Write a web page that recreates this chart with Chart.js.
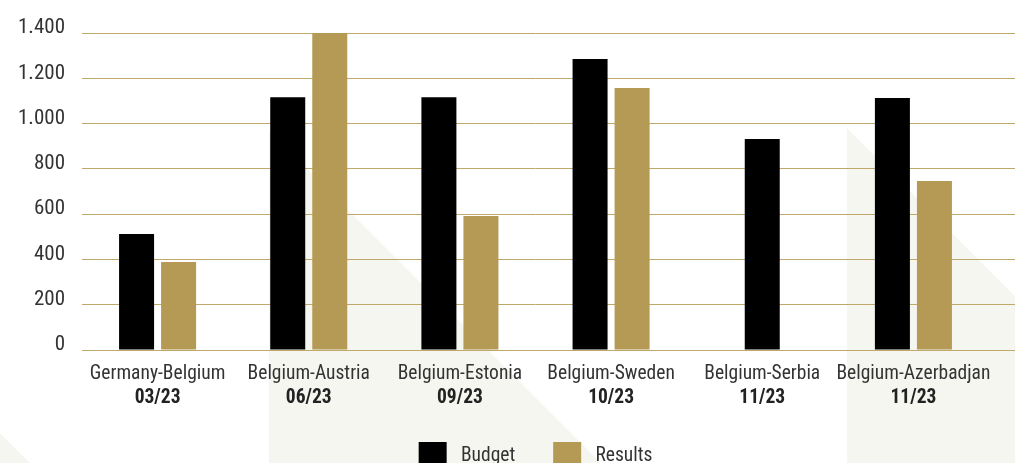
<!DOCTYPE html>
<html>
<head>
<meta charset="utf-8">
<script src="https://cdn.jsdelivr.net/npm/chart.js@4.4.1/dist/chart.umd.min.js"></script>
<style>
  html, body { margin: 0; padding: 0; background: #fff; overflow: hidden; }
  #wrap { position: relative; width: 1015px; height: 480px; }
  .deco { position: absolute; left: 0; top: 0; width: 1015px; height: 480px; background: #f6f6f1; }
  #decoA { clip-path: polygon(269px 131px, 618px 480px, 269px 480px); }
  #decoB { clip-path: polygon(847px 128px, 1015px 296px, 1015px 480px, 847px 480px); }
  #decoC { clip-path: polygon(0px 433px, 47px 480px, 0px 480px); }
  canvas { position: absolute; left: 0; top: 0; }
</style>
</head>
<body>
<div id="wrap">
  <div class="deco" id="decoA"></div>
  <div class="deco" id="decoB"></div>
  <div class="deco" id="decoC"></div>
  <canvas id="budgetChart" width="1015" height="480"></canvas>
</div>
<script>
const matches = ["Germany-Belgium", "Belgium-Austria", "Belgium-Estonia", "Belgium-Sweden", "Belgium-Serbia", "Belgium-Azerbadjan"];
const dates = ["03/23", "06/23", "09/23", "10/23", "11/23", "11/23"];
const budget = [512, 1116, 1116, 1285, 932, 1113];
const results = [389, 1400, 592, 1157, null, 746];

const gold = "rgb(181, 154, 85)";
const gridGold = "rgb(192, 168, 106)";
const fontName = "'Roboto Condensed', Roboto, sans-serif";

function dotThousands(v) {
  return String(v).replace(/\B(?=(\d{3})+(?!\d))/g, ".");
}

// gridlines run on to the right edge of the picture
const extendGrid = {
  id: "extendGrid",
  beforeDatasetsDraw(chart) {
    const y = chart.scales.y;
    const ctx = chart.ctx;
    ctx.save();
    ctx.strokeStyle = gridGold;
    ctx.lineWidth = 1;
    y.ticks.forEach((t, i) => {
      const py = Math.round(y.getPixelForTick(i) - 0.5) + 0.5;
      ctx.beginPath();
      ctx.moveTo(chart.chartArea.right - 1, py);
      ctx.lineTo(chart.width, py);
      ctx.stroke();
    });
    ctx.restore();
  }
};

const chartData = {
  labels: matches,
  datasets: [
    {
      label: "Budget",
      backgroundColor: "#000",
      data: budget,
      skipNull: true,
      categoryPercentage: 0.556,
      barPercentage: 0.833,
      maxBarThickness: 35,
    },
    {
      label: "Results",
      backgroundColor: gold,
      data: results,
      skipNull: true,
      categoryPercentage: 0.556,
      barPercentage: 0.833,
      maxBarThickness: 35,
    },
  ],
};

const chartConfig = {
  type: "bar",
  data: chartData,
  options: {
    responsive: false,
    animation: false,
    layout: { padding: { top: 33, right: 26, left: 0, bottom: 0 } },
    plugins: {
      tooltip: { enabled: false },
      legend: {
        position: "bottom",
        fullSize: false,
        labels: {
          boxWidth: 28,
          boxHeight: 28,
          padding: 38,
          color: "#333",
          font: { family: fontName, size: 19.5 },
          generateLabels(chart) {
            // a little more room between the box and its text
            return Chart.defaults.plugins.legend.labels
              .generateLabels(chart)
              .map((item) => ({ ...item, text: " " + item.text }));
          },
        },
      },
    },
    scales: {
      x: {
        grid: { display: false, drawTicks: false },
        border: { display: true, color: gridGold, width: 1 },
        ticks: {
          color: "#333",
          padding: 12,
          maxRotation: 0,
          autoSkip: false,
          font: { family: fontName, size: 19.5 },
        },
        afterFit(scale) {
          scale.height = 34;
        },
      },
      x2: {
        type: "category",
        position: "bottom",
        labels: dates,
        grid: { display: false, drawTicks: false },
        border: { display: false },
        ticks: {
          color: "#222",
          padding: 2,
          maxRotation: 0,
          autoSkip: false,
          font: { family: fontName, size: 19.5, weight: "bold" },
        },
        afterFit(scale) {
          scale.height = 20;
        },
      },
      y: {
        min: 0,
        max: 1400,
        ticks: {
          stepSize: 200,
          color: "#333",
          padding: 17,
          labelOffset: -5,
          font: { family: fontName, size: 21 },
          callback: (v) => dotThousands(v),
        },
        grid: { color: gridGold, lineWidth: 1, drawTicks: false },
        border: { display: false },
        afterFit(scale) {
          scale.width = 82;
        },
      },
    },
  },
  plugins: [extendGrid],
};

document.fonts.load("19px 'Roboto Condensed'").then(() => {
  new Chart(document.getElementById("budgetChart"), chartConfig);
});
</script>
</body>
</html>
